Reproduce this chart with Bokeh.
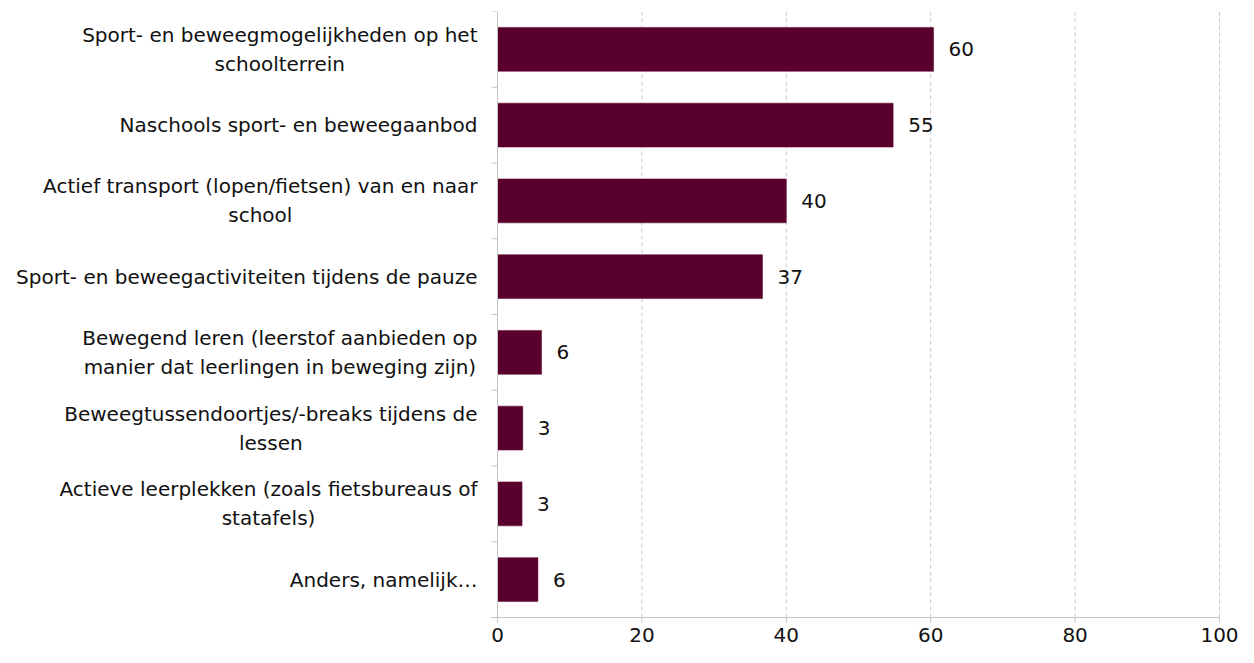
from bokeh.plotting import figure
from bokeh.models import Range1d, FixedTicker, ColumnDataSource, Label, Grid
from bokeh.embed import file_html
from bokeh.resources import INLINE
from bokeh.core.properties import value

categories = [
    "Sport- en beweegmogelijkheden op het\nschoolterrein",
    "Naschools sport- en beweegaanbod",
    "Actief transport (lopen/fietsen) van en naar\nschool",
    "Sport- en beweegactiviteiten tijdens de pauze",
    "Bewegend leren (leerstof aanbieden op\nmanier dat leerlingen in beweging zijn)",
    "Beweegtussendoortjes/-breaks tijdens de\nlessen",
    "Actieve leerplekken (zoals fietsbureaus of\nstatafels)",
    "Anders, namelijk…",
]
values = [60.4, 54.8, 40.0, 36.7, 6.1, 3.5, 3.4, 5.6]
value_labels = ["60", "55", "40", "37", "6", "3", "3", "6"]
x_ticks = [0, 20, 40, 60, 80, 100]
x_tick_labels = ["0", "20", "40", "60", "80", "100"]

FONT = "DejaVu Sans"
TXT = "#111111"
AXIS = "#c4c4c4"
n = len(categories)
ypos = [i + 0.5 for i in range(n)]
bounds = list(range(n + 1))

# ---- layout (pixels) -> data ranges; the frame covers the whole figure
W, H = 1238, 647
TOP_PX = 11          # top of the plotting area
AXIS_PX = 497        # x = 0
END_PX = 1219        # x = 100
BASE_PX = 617        # bottom of the category bands
x_max = x_ticks[-1]
px_per_unit = (END_PX - AXIS_PX) / x_max
x_lo = -AXIS_PX / px_per_unit
x_hi = x_max + (W - END_PX) / px_per_unit
px_per_band = (BASE_PX - TOP_PX) / n
y_hi = n + (H - BASE_PX) / px_per_band
sep_len = 6 / px_per_unit          # category separator ticks
tick_len = 5 / px_per_band         # x-axis ticks

src = ColumnDataSource(dict(y=ypos, v=values, lab=value_labels))

p = figure(width=W, height=H, output_backend="svg", toolbar_location=None,
           x_range=Range1d(x_lo, x_hi), y_range=Range1d(y_hi, 0),
           x_axis_location=None, y_axis_location=None,
           min_border_left=0, min_border_right=0, min_border_top=TOP_PX, min_border_bottom=0)
p.outline_line_color = None
p.background_fill_color = "white"

# dashed vertical gridlines, only over the category bands
p.segment(x0=x_ticks[1:], x1=x_ticks[1:], y0=[0] * (len(x_ticks) - 1), y1=[n] * (len(x_ticks) - 1),
          line_color="#c8c8c8", line_width=1, line_dash="4 3")

p.hbar(y="y", right="v", left=0, height=0.58, source=src,
       fill_color="#5a002c", line_color="#5a002c", line_width=0.5)
p.text(x="v", y="y", text="lab", source=src, x_offset=15,
       text_baseline="middle", text_align="left",
       text_font=value(FONT), text_font_size="20px", text_color=TXT)

# category axis line and separator ticks
p.segment(x0=[0], x1=[0], y0=[bounds[0]], y1=[bounds[-1]], line_color=AXIS, line_width=1)
p.segment(x0=[-sep_len] * len(bounds), x1=[0] * len(bounds), y0=bounds, y1=bounds,
          line_color=AXIS, line_width=1)
# value axis: baseline, ticks and tick labels
p.segment(x0=[-sep_len], x1=[x_max], y0=[n], y1=[n], line_color=AXIS, line_width=1)
p.segment(x0=x_ticks, x1=x_ticks, y0=[n] * len(x_ticks), y1=[n + tick_len] * len(x_ticks),
          line_color=AXIS, line_width=1)
p.text(x=x_ticks, y=[n] * len(x_ticks), text=x_tick_labels, y_offset=17,
       text_align="center", text_baseline="middle",
       text_font=value(FONT), text_font_size="20px", text_color=TXT)

# category labels: block right-aligned to the axis, lines centred
for yv, cat in zip(ypos, categories):
    kw = dict(x=0, y=yv, x_units="data", y_units="data", x_offset=-20, text=cat,
              text_font=FONT, text_font_size="20px", text_color=TXT,
              text_line_height=1.2, text_baseline="middle")
    try:
        lab = Label(anchor="center_right", text_align="center", **kw)
    except AttributeError:
        lab = Label(text_align="right", **kw)
    p.add_layout(lab)

p.xgrid.grid_line_color = None
p.ygrid.grid_line_color = None

open("out.html", "w").write(file_html(p, INLINE))
